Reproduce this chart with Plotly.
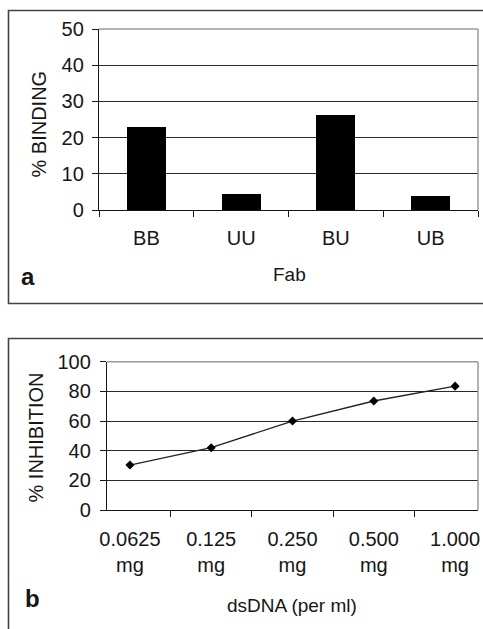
import plotly.graph_objects as go

# panel a: binding of Fab fragments
fab_labels = ["BB", "UU", "BU", "UB"]
binding_pct = [23, 4.3, 26.2, 4.0]

# panel b: inhibition by dsDNA
dose_labels = ["0.0625<br>mg", "0.125<br>mg", "0.250<br>mg", "0.500<br>mg", "1.000<br>mg"]
inhibition_pct = [30.3, 42, 60, 73.5, 83.5]

W, H = 483, 629
INK = "#161616"
FONT = "Liberation Sans, Arial, sans-serif"


def px_x(v):
    return v / W


def px_y(v):
    return 1 - v / H


fig = go.Figure()
fig.add_trace(go.Bar(x=fab_labels, y=binding_pct, marker=dict(color="black", line=dict(width=0)),
                     width=0.41, xaxis="x", yaxis="y", showlegend=False))
fig.add_trace(go.Scatter(x=dose_labels, y=inhibition_pct, mode="lines+markers",
                         line=dict(color="#222", width=1.3),
                         marker=dict(symbol="diamond", size=7, color="black"),
                         xaxis="x2", yaxis="y2", showlegend=False))

axis_common = dict(showline=True, linecolor=INK, linewidth=1.3, ticks="outside",
                   tickcolor=INK, ticklen=6, tickwidth=1.2, automargin=False,
                   tickfont=dict(size=20, color=INK, family=FONT))

fig.update_layout(
    width=W, height=H, margin=dict(l=0, r=0, t=0, b=0),
    paper_bgcolor="white", plot_bgcolor="white",
    font=dict(family=FONT, color=INK),
    bargap=0,
    xaxis=dict(domain=[px_x(99), px_x(478)], anchor="y", tickson="boundaries",
               showgrid=False, ticklabelstandoff=10, **axis_common),
    yaxis=dict(domain=[px_y(210), px_y(29)], anchor="x", range=[0, 50], dtick=10,
               showgrid=True, gridcolor="#2a2a2a", gridwidth=1.2, zeroline=False,
               ticklabelstandoff=4, **axis_common),
    xaxis2=dict(domain=[px_x(107), px_x(478)], anchor="y2", tickson="boundaries",
                showgrid=False, ticklabelstandoff=11, **axis_common),
    yaxis2=dict(domain=[px_y(510), px_y(361.7)], anchor="x2", range=[0, 100], dtick=20,
                showgrid=True, gridcolor="#2a2a2a", gridwidth=1.2, zeroline=False,
                ticklabelstandoff=5, **axis_common),
)

# plot-area borders (grey top/right) and outer panel frames
for xr, yr in [("x domain", "y domain"), ("x2 domain", "y2 domain")]:
    fig.add_shape(type="line", xref=xr, yref=yr, x0=0, x1=1, y0=1, y1=1,
                  line=dict(color="#9a9a9a", width=1.5), layer="above")
    fig.add_shape(type="line", xref=xr, yref=yr, x0=1, x1=1, y0=0, y1=1,
                  line=dict(color="#9a9a9a", width=1.5), layer="above")

fig.add_shape(type="rect", xref="paper", yref="paper",
              x0=px_x(8.5), x1=1.05, y0=px_y(303.5), y1=px_y(10.5),
              line=dict(color="#444", width=1.6))
fig.add_shape(type="rect", xref="paper", yref="paper",
              x0=px_x(8.5), x1=1.05, y0=-0.05, y1=px_y(338.5),
              line=dict(color="#444", width=1.6))

# axis titles and panel letters
texts = [
    ("% BINDING", 38, 124.5, -90, 20, False),
    ("Fab", 289, 275, 0, 19, False),
    ("% INHIBITION", 35, 437.5, -90, 20, False),
    ("dsDNA (per ml)", 292, 605, 0, 19, False),
    ("a", 28, 276, 0, 24, True),
    ("b", 32, 598, 0, 24, True),
]
for txt, x, y, ang, size, bold in texts:
    fig.add_annotation(text=f"<b>{txt}</b>" if bold else txt, xref="paper", yref="paper",
                       x=px_x(x), y=px_y(y), textangle=ang, showarrow=False,
                       font=dict(size=size, color=INK, family=FONT),
                       xanchor="center", yanchor="middle")

fig.write_html("out.html", config={"displayModeBar": False},
               post_script="document.body.style.margin='0';document.body.style.overflow='hidden';")
